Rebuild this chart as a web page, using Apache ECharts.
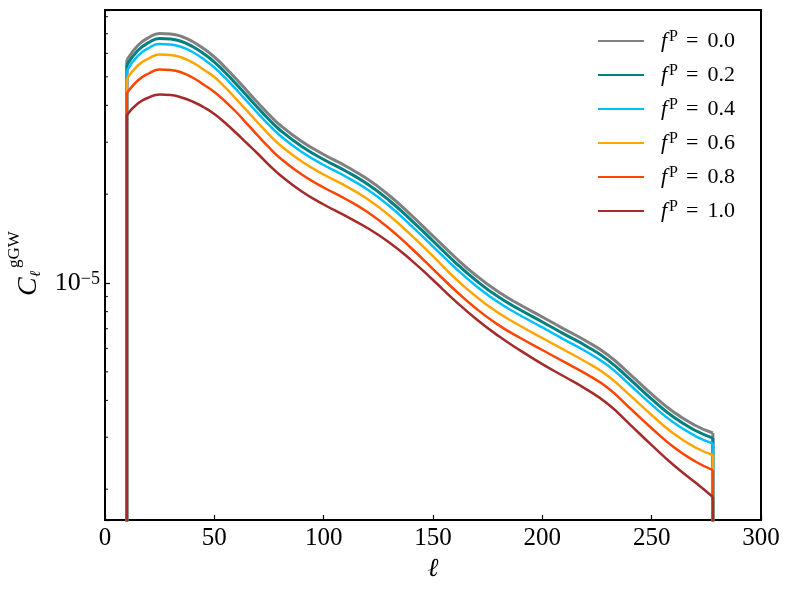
<!DOCTYPE html>
<html>
<head>
<meta charset="utf-8">
<script src="https://cdn.jsdelivr.net/npm/echarts@6/dist/echarts.min.js"></script>
<style>
  html, body { margin: 0; padding: 0; background: #fff; }
  #chart { width: 790px; height: 590px; }
</style>
</head>
<body>
<div id="chart"></div>
<script>
// values of C_l^{gGW} in units of 1e-5
const UNIT = 1e-5;
const ells = [10, 15, 20, 25, 30, 35, 40, 45, 50, 55, 60, 65, 70, 75, 80, 90, 100, 110, 120, 130, 140, 150, 160, 170, 180, 190, 200, 210, 220, 230, 240, 250, 260, 270, 278];
const cl00 = [5.700, 6.384, 6.795, 7.011, 6.985, 6.849, 6.587, 6.236, 5.836, 5.377, 4.915, 4.477, 4.076, 3.726, 3.433, 3.018, 2.727, 2.493, 2.251, 1.980, 1.700, 1.443, 1.225, 1.056, 0.932, 0.842, 0.767, 0.698, 0.636, 0.570, 0.491, 0.420, 0.3653, 0.3288, 0.3101];
const cl02 = [5.482, 6.139, 6.535, 6.742, 6.717, 6.587, 6.335, 5.997, 5.612, 5.171, 4.727, 4.306, 3.920, 3.583, 3.302, 2.902, 2.623, 2.398, 2.165, 1.904, 1.635, 1.388, 1.178, 1.016, 0.896, 0.810, 0.738, 0.671, 0.612, 0.548, 0.472, 0.404, 0.3513, 0.3162, 0.2982];
const cl04 = [5.251, 5.882, 6.260, 6.459, 6.435, 6.310, 6.069, 5.745, 5.377, 4.954, 4.528, 4.125, 3.755, 3.433, 3.163, 2.780, 2.512, 2.297, 2.074, 1.824, 1.566, 1.329, 1.129, 0.973, 0.859, 0.776, 0.707, 0.643, 0.586, 0.525, 0.452, 0.387, 0.3366, 0.3029, 0.2857];
const cl06 = [4.914, 5.461, 5.768, 5.952, 5.930, 5.814, 5.592, 5.294, 4.992, 4.600, 4.204, 3.830, 3.487, 3.187, 2.937, 2.582, 2.333, 2.133, 1.926, 1.694, 1.454, 1.234, 1.040, 0.896, 0.791, 0.715, 0.651, 0.593, 0.540, 0.484, 0.417, 0.357, 0.3089, 0.2770, 0.2612];
const cl08 = [4.406, 4.858, 5.131, 5.294, 5.274, 5.172, 4.974, 4.709, 4.441, 4.124, 3.799, 3.461, 3.151, 2.880, 2.654, 2.333, 2.108, 1.927, 1.740, 1.531, 1.314, 1.115, 0.947, 0.816, 0.720, 0.651, 0.593, 0.540, 0.492, 0.441, 0.377, 0.322, 0.2780, 0.2483, 0.2323];
const cl10 = [3.711, 4.060, 4.254, 4.355, 4.339, 4.255, 4.124, 3.950, 3.740, 3.486, 3.224, 2.971, 2.737, 2.512, 2.324, 2.043, 1.846, 1.688, 1.536, 1.372, 1.196, 1.024, 0.872, 0.752, 0.661, 0.590, 0.531, 0.482, 0.437, 0.389, 0.332, 0.282, 0.2415, 0.2107, 0.1882];

const fpLabels = ['0.0', '0.2', '0.4', '0.6', '0.8', '1.0'];
const lineColors = ['gray', 'teal', 'deepskyblue', 'orange', 'orangered', 'brown'];
const lineWidths = [3, 3, 2.5, 2.5, 2.5, 2.5];
const curves = [cl00, cl02, cl04, cl06, cl08, cl10];

// curves fall to zero outside 10 <= l <= 278 (drawn as drops to the axis floor)
const floorValue = 1e-8;

const xMin = 0, xMax = 300, xStep = 50;
const yMin = 1.573e-6, yMax = 8.422e-5;
const yMinorTicks = [2e-6, 3e-6, 4e-6, 5e-6, 6e-6, 7e-6, 8e-6, 9e-6, 2e-5, 3e-5, 4e-5, 5e-5, 6e-5, 7e-5, 8e-5];

const FONT = "'Liberation Serif', 'DejaVu Serif', serif";

const chart = echarts.init(document.getElementById('chart'), null, { renderer: 'canvas' });

function supLabel(value) {
  const e = Math.log10(value);
  const r = Math.round(e);
  if (Math.abs(e - r) > 1e-6) return '';
  const exp = (r < 0 ? '\u2212' : '') + Math.abs(r);
  return `{b|10}{s|${exp}}`;
}

const series = [];
curves.forEach((vals, i) => {
  series.push({
    name: fpLabels[i],
    type: 'line',
    smooth: 0.5,
    symbol: 'none',
    silent: true,
    clip: true,
    lineStyle: { color: lineColors[i], width: lineWidths[i] },
    itemStyle: { color: lineColors[i] },
    data: ells.map((l, k) => [l, vals[k] * UNIT])
  });
  const last = ells.length - 1;
  series.push({
    name: 'drop' + i,
    type: 'line',
    symbol: 'none',
    silent: true,
    clip: true,
    connectNulls: false,
    lineStyle: { color: lineColors[i], width: lineWidths[i] },
    data: [
      [ells[0], floorValue],
      [ells[0], vals[0] * UNIT],
      [ells[last], '-'],
      [ells[last], vals[last] * UNIT],
      [ells[last], floorValue]
    ]
  });
});

// matplotlib-style log minor ticks on the left axis
series.push({
  name: 'minorTicks',
  type: 'scatter',
  silent: true,
  clip: false,
  symbol: 'rect',
  symbolSize: [3, 1.2],
  symbolOffset: [1.5, 0],
  itemStyle: { color: '#000' },
  data: yMinorTicks.map((v) => [xMin, v]),
  z: 5
});

chart.setOption({
  animation: false,
  backgroundColor: '#fff',
  grid: {
    left: 105, right: 29, top: 10, bottom: 70,
    show: true, borderColor: '#000', borderWidth: 2,
    outerBoundsMode: 'none'
  },
  legend: {
    data: fpLabels,
    orient: 'vertical',
    left: 597,
    top: 29,
    padding: 0,
    itemWidth: 46,
    itemHeight: 24,
    itemGap: 10,
    selectedMode: false,
    itemStyle: { opacity: 0 },
    formatter: (name) => `{f|f}{p|P}{e|=}{n|${name}}`,
    textStyle: {
      fontFamily: FONT,
      fontSize: 22,
      color: '#000',
      lineHeight: 24,
      padding: [0, 0, 0, 12],
      rich: {
        f: { fontFamily: FONT, fontSize: 22, fontStyle: 'italic', lineHeight: 24 },
        p: { fontFamily: FONT, fontSize: 16, lineHeight: 16, verticalAlign: 'top', padding: [0, 0, 0, 2] },
        e: { fontFamily: FONT, fontSize: 22, lineHeight: 24, padding: [0, 9, 0, 8] },
        n: { fontFamily: FONT, fontSize: 22, lineHeight: 24 }
      }
    }
  },
  xAxis: {
    type: 'value',
    min: xMin,
    max: xMax,
    interval: xStep,
    name: '\u2113',
    nameLocation: 'middle',
    nameGap: 30,
    nameTextStyle: { fontFamily: FONT, fontSize: 26, fontStyle: 'italic', color: '#000' },
    axisLine: { show: true, lineStyle: { color: '#000', width: 2 } },
    axisTick: { show: true, inside: true, length: 5, lineStyle: { color: '#000', width: 1.2 } },
    axisLabel: { fontFamily: FONT, fontSize: 25, color: '#000', margin: 6 },
    splitLine: { show: false }
  },
  yAxis: {
    type: 'log',
    logBase: 10,
    min: yMin,
    max: yMax,
    axisLine: { show: true, lineStyle: { color: '#000', width: 2 } },
    axisTick: { show: true, inside: true, length: 5, lineStyle: { color: '#000', width: 1.2 } },
    axisLabel: {
      margin: 5,
      formatter: supLabel,
      rich: {
        b: { fontFamily: FONT, fontSize: 26, color: '#000', lineHeight: 26 },
        s: { fontFamily: FONT, fontSize: 18, color: '#000', lineHeight: 18, verticalAlign: 'top' }
      }
    },
    splitLine: { show: false },
    minorTick: { show: false }
  },
  graphic: [
    {
      type: 'group',
      x: 38,
      y: 296,
      rotation: Math.PI / 2,
      children: [
        { type: 'text', x: 0, y: -9, style: { text: 'C', font: `italic 28px ${FONT}`, fill: '#000', align: 'left', verticalAlign: 'middle' } },
        { type: 'text', x: 19, y: -1.5, style: { text: '\u2113', font: `italic 15px ${FONT}`, fill: '#000', align: 'left', verticalAlign: 'middle' } },
        { type: 'text', x: 28, y: -23, style: { text: 'gGW', font: `17px ${FONT}`, fill: '#000', align: 'left', verticalAlign: 'middle' } }
      ]
    }
  ],
  series
});
</script>
</body>
</html>
